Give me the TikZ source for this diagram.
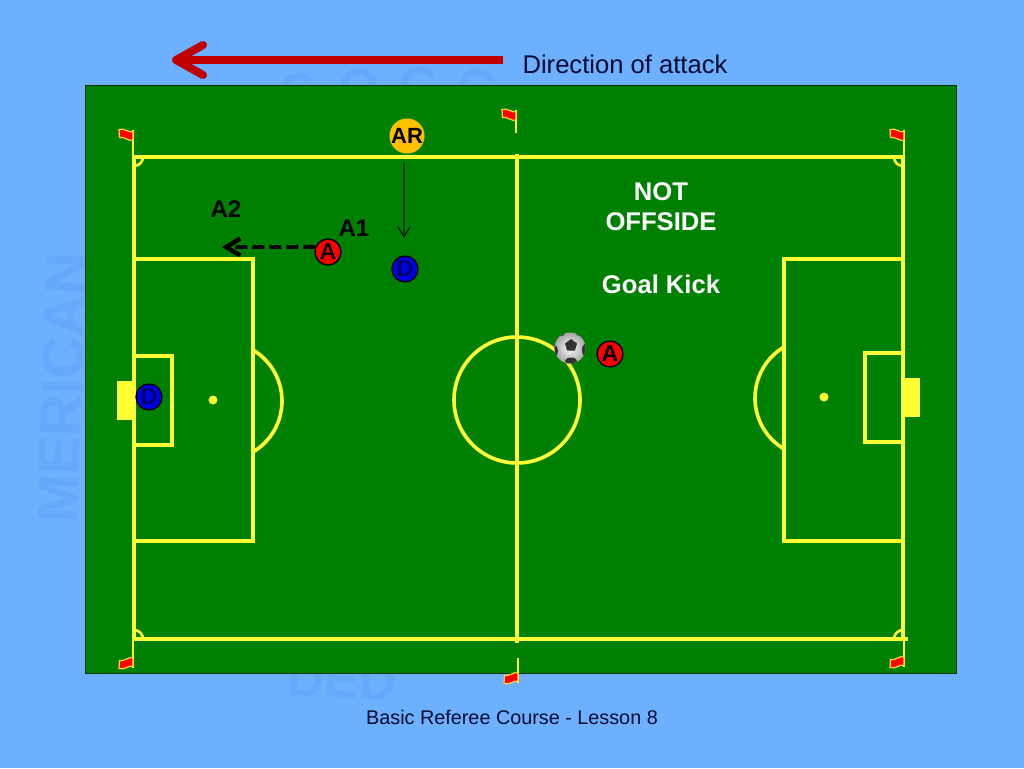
\documentclass[tikz,border=0pt]{standalone}
\usepackage{fontspec}
\setmainfont{Liberation Sans}
\usetikzlibrary{arrows.meta}

\definecolor{skyblue}{HTML}{6CB0FF}
\definecolor{markblue}{HTML}{64AAF8}
\definecolor{pitchgreen}{HTML}{008000}
\definecolor{linkyellow}{HTML}{FFFF33}
\definecolor{attackred}{HTML}{C00000}
\definecolor{arorange}{HTML}{FFC000}
\definecolor{footnavy}{HTML}{000A30}

\tikzset{
  pitchline/.style={draw=linkyellow,line width=3.6},
  player/.style={circle,draw=black,line width=1.4,minimum size=26,inner sep=0,font=\fontsize{23}{23}\selectfont\bfseries},
  callout/.style={font=\fontsize{24}{24}\selectfont\bfseries},
  verdict/.style={text=white,font=\fontsize{25.6}{30}\selectfont\bfseries,align=center},
  watermark/.style={text=markblue,font=\fontsize{52}{52}\selectfont\bfseries},
  pitchflag/.pic={
    \draw[linkyellow,line width=2] (0,0) -- (0,#1);
    \draw[draw=linkyellow!70!orange,fill=red,line width=1.2] (0,1.5) .. controls (-4,3.5) and (-8,-2.5) .. (-14,-0.5)
      -- (-13.5,7.5) .. controls (-9,6) and (-4,12) .. (0,10) -- cycle;
  }
}

\begin{document}
\begin{tikzpicture}[x=1pt,y=-1pt]
  \useasboundingbox (0,0) rectangle (1024,768);
  \fill[skyblue] (0,0) rectangle (1024,768);

  % faint letters behind the pitch
  \node[watermark,rotate=88,font=\fontsize{58}{58}\selectfont\bfseries] (side) at (62,388) {MERICAN};
  \foreach \mx/\my/\ang/\ltr in {300/92/12/S,360/88/6/O,418/86/0/C,476/88/-6/C}
    \node[watermark,rotate=\ang] at (\mx,\my) {\ltr};
  \node[watermark,rotate=-3] (lowmark) at (342,680) {DED};

  % pitch
  \draw[fill=pitchgreen,draw=black!80!green,line width=1] (85,85) rectangle (956,673);
  \draw[pitchline] (134,157) rectangle (903,639);
  \draw[pitchline] (903,639) -- (908,639);
  \draw[pitchline] (517,154) -- (517,643);
  \draw[pitchline] (517,400) circle[radius=63];
  % left end
  \draw[pitchline] (134,259) rectangle (253,541);
  \draw[pitchline] (134,356) rectangle (172,445);
  \draw[pitchline] (253,350) arc[start angle=-59.3,end angle=59.3,radius=59.3];
  \fill[linkyellow] (213,400) circle[radius=4.5];
  \fill[linkyellow] (117,381) rectangle (132,420);
  % right end
  \draw[pitchline] (784,259) rectangle (903,541);
  \draw[pitchline] (865,353) rectangle (903,442);
  \draw[pitchline] (784,347) arc[start angle=239.3,end angle=120.7,radius=59.3];
  \fill[linkyellow] (824,397) circle[radius=4.5];
  \fill[linkyellow] (905,378) rectangle (920,417);
  % corners
  \draw[pitchline,line width=2.6] (143,157) arc[start angle=0,end angle=90,radius=9];
  \draw[pitchline,line width=2.6] (903,166) arc[start angle=90,end angle=180,radius=9];
  \draw[pitchline,line width=2.6] (134,630) arc[start angle=-90,end angle=0,radius=9];
  \draw[pitchline,line width=2.6] (894,639) arc[start angle=180,end angle=270,radius=9];

  % flags
  \pic at (133,130) {pitchflag=27};
  \pic at (516,110) {pitchflag=23};
  \pic at (904,130) {pitchflag=25};
  \pic[yscale=-1] at (133,668) {pitchflag=29};
  \pic[yscale=-1] at (518,683) {pitchflag=25};
  \pic[yscale=-1] at (904,667) {pitchflag=27};

  % people
  \node[circle,fill=arorange,minimum size=34,inner sep=0,font=\fontsize{22}{22}\selectfont\bfseries] (ar) at (407,136) {AR};
  \node[player,fill=red] (aone) at (328,252) {A};
  \node[player,fill=red] (atwo) at (610,354) {A};
  \node[player,fill=blue!90!black,text=blue!40!black] (dnear) at (405,269) {D};
  \node[player,fill=blue!90!black,text=blue!40!black] (dkeep) at (149,397) {D};

  % ball
  \node[circle,inner sep=0,minimum size=31,shade,inner color=white,outer color=gray!70!white] (ball) at (570,348) {};
  \begin{scope}
    \clip (570,348) circle[radius=15.5];
    \fill[black!80] (571,339) -- (577,343.5) -- (575,350.5) -- (567,350.5) -- (565,343.5) -- cycle;
    \fill[black!80] (571,361) ellipse[x radius=6,y radius=3.5];
    \fill[black!80] (555,351) ellipse[x radius=3,y radius=5.5];
    \fill[black!80] (585,350) ellipse[x radius=3,y radius=6];
    \fill[black!70] (561,334) ellipse[x radius=4,y radius=2];
    \fill[black!70] (580,334) ellipse[x radius=4,y radius=2];
  \end{scope}

  % texts
  \node[callout] (atwolabel) at (226,209) {A2};
  \node[callout] (aonelabel) at (354,228) {A1};
  \node[verdict] (notoff) at (661,207) {NOT\\OFFSIDE};
  \node[verdict] (kick) at (661,284) {Goal Kick};
  \node[text=footnavy,font=\fontsize{25.6}{30}\selectfont] (attack) at (625,64) {Direction of attack};
  \node[text=footnavy,font=\fontsize{19.8}{24}\selectfont] (course) at (512,717) {Basic Referee Course - Lesson 8};

  % links
  \coordinate (arfoot) at (404,238);
  \coordinate (runend) at (222,247);
  \coordinate (attackfrom) at (503,60);
  \coordinate (attackto) at (172,60);
  \draw[-{Straight Barb[length=10,width=12]},black!90!green,line width=1.2,shorten <=9] (ar.260) -- (arfoot);
  \draw[-{Straight Barb[length=14,width=17,line width=4.4]},black,line width=3.8,dash pattern=on 12 off 5] (aone.158) -- (runend);
  \draw[-{Straight Barb[length=27,width=30,round,line width=8]},attackred,line width=7] (attackfrom) -- (attackto);
\end{tikzpicture}
\end{document}
